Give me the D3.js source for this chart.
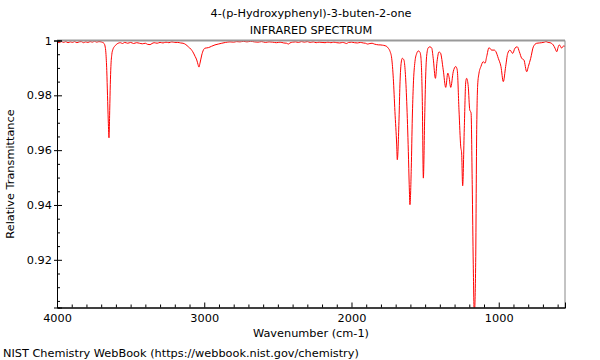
<!DOCTYPE html>
<html>
<head>
<meta charset="utf-8">
<script src="https://cdn.jsdelivr.net/npm/d3@7"></script>
<style>
  html, body { margin: 0; padding: 0; background: #fff; }
  svg { display: block; font-family: "DejaVu Sans", sans-serif; }
</style>
</head>
<body>
<svg id="chart" width="600" height="360"></svg>
<script>
// ---- data ----
const titleLines = ["4-(p-Hydroxyphenyl)-3-buten-2-one", "INFRARED SPECTRUM"];
const xLabel = "Wavenumber (cm-1)";
const yLabel = "Relative Transmittance";
const footer = "NIST Chemistry WebBook (https://webbook.nist.gov/chemistry)";

const xMajorTicks = [4000, 3000, 2000, 1000];
const xTickLabels = ["4000", "3000", "2000", "1000"];
const yMajorTicks = [0.92, 0.94, 0.96, 0.98, 1];
const yTickLabels = ["0.92", "0.94", "0.96", "0.98", "1"];
const xMinorTicks = [3900,3800,3700,3600,3500,3400,3300,3200,3100,2900,2800,2700,2600,2500,2400,2300,2200,2100,1900,1800,1700,1600,1500,1400,1300,1200,1100,900,800,700,600];
const yMinorTicks = [0.905,0.91,0.915,0.925,0.93,0.935,0.945,0.95,0.955,0.965,0.97,0.975,0.985,0.99,0.995];

const wavenumber = [
4000,3985,3970,3955,3940,3925,3910,3895,3880,3865,3850,3835,3820,3805,3790,3775,3760,3745,3730,3715,
3700,3690,3680,3674,3668,3662,3657,3652,3649,3647,3645,3642,3638,3634,3628,3620,3610,3598,3585,3570,
3555,3540,3520,3500,3480,3460,3440,3420,3400,3385,3368,3355,3340,3320,3300,3280,3260,3240,3220,3200,
3180,3160,3144,3125,3108,3090,3078,3062,3051,3042,3036,3029,3017,3006,2995,2983,2972,2950,2927,2905,
2881,2855,2825,2800,2780,2757,2735,2710,2685,2660,2635,2610,2585,2560,2535,2510,2485,2460,2440,2429,
2418,2400,2380,2360,2340,2320,2300,2280,2260,2240,2220,2200,2180,2160,2140,2120,2100,2080,2060,2045,
2033,2020,2000,1980,1960,1940,1920,1905,1890,1875,1860,1845,1829,1815,1806,1790,1772,1760,1750,1738,
1727,1716,1705,1693,1689,1677,1671,1664,1655,1644,1635,1625,1614,1608,1603,1594,1587,1580,1569,1557,
1546,1535,1528,1519,1512,1503,1496,1489,1478,1467,1455,1445,1430,1419,1406,1396,1377,1360,1346,1338,
1326,1309,1292,1282,1270,1258,1252,1245,1234,1224,1218,1207,1197,1188,1180,1173,1166,1157,1150,1143,
1134,1121,1105,1093,1082,1066,1048,1030,1019,1003,985,969,953,939,924,905,890,874,860,844,
829,810,799,783,765,742,725,708,690,679,665,652,640,630,618,606,597,589,580,572,
565,557,550
];
const transmittance = [
0.9995,0.9992,0.9996,0.9993,0.9996,0.9992,0.9995,0.9993,0.9996,0.9992,0.9995,0.9996,0.9992,0.9995,0.9993,0.9996,0.9994,0.9997,0.9994,0.9996,
0.9995,0.9993,0.9989,0.9980,0.9955,0.9890,0.9800,0.9710,0.9665,0.9645,0.9670,0.9745,0.9840,0.9905,0.9948,0.9968,0.9978,0.9985,0.9990,0.9992,
0.9989,0.9993,0.9990,0.9993,0.9989,0.9992,0.9990,0.9988,0.9990,0.9986,0.9985,0.9989,0.9992,0.9990,0.9993,0.9991,0.9994,0.9992,0.9995,0.9993,
0.9993,0.9991,0.9990,0.9985,0.9977,0.9968,0.9959,0.9942,0.9929,0.9912,0.9903,0.9917,0.9947,0.9965,0.9972,0.9973,0.9974,0.9979,0.9984,0.9987,
0.9990,0.9993,0.9995,0.9994,0.9996,0.9995,0.9997,0.9995,0.9997,0.9995,0.9994,0.9996,0.9993,0.9995,0.9994,0.9992,0.9994,0.9991,0.9990,0.9987,
0.9991,0.9994,0.9995,0.9993,0.9996,0.9994,0.9996,0.9993,0.9995,0.9992,0.9994,0.9993,0.9992,0.9994,0.9992,0.9994,0.9992,0.9991,0.9993,0.9991,
0.9989,0.9993,0.9994,0.9992,0.9991,0.9993,0.9991,0.9990,0.9987,0.9989,0.9990,0.9987,0.9985,0.9984,0.9984,0.9983,0.9981,0.9978,0.9972,0.9960,
0.9935,0.9862,0.9741,0.9619,0.9565,0.9717,0.9838,0.9911,0.9935,0.9929,0.9886,0.9777,0.9595,0.9474,0.9401,0.9534,0.9717,0.9838,0.9923,0.9953,
0.9962,0.9957,0.9935,0.9777,0.9498,0.9717,0.9874,0.9947,0.9974,0.9977,0.9972,0.9935,0.9862,0.9923,0.9958,0.9955,0.9893,0.9829,0.9881,0.9868,
0.9829,0.9886,0.9905,0.9893,0.9747,0.9612,0.9590,0.9470,0.9678,0.9849,0.9862,0.9832,0.9747,0.9736,0.9474,0.9182,0.9000,0.9171,0.9656,0.9838,
0.9881,0.9905,0.9923,0.9917,0.9941,0.9974,0.9965,0.9965,0.9959,0.9935,0.9905,0.9850,0.9905,0.9953,0.9965,0.9953,0.9972,0.9977,0.9959,0.9935,
0.9929,0.9886,0.9905,0.9935,0.9977,0.9990,0.9991,0.9992,0.9994,0.9996,0.9993,0.9992,0.9989,0.9984,0.9972,0.9959,0.9975,0.9984,0.9978,0.9972,
0.9978,0.9980,0.9978
];

// ---- layout ----
const svg = d3.select("#chart");
const plotLeft = 57, plotRight = 565, plotTop = 40.5, plotBottom = 307.5;
const fontSize = "11.3px";

const x = d3.scaleLinear().domain([4000, 550]).range([plotLeft, plotRight]);
const y = d3.scaleLinear().domain([0.9026, 1]).range([plotBottom, plotTop]);

// titles
svg.selectAll("text.title").data(titleLines).enter().append("text")
  .attr("class", "title")
  .attr("x", 311).attr("y", (d, i) => 17 + i * 17)
  .attr("text-anchor", "middle")
  .attr("font-size", fontSize).attr("fill", "#000")
  .text(d => d);

// clip
svg.append("clipPath").attr("id", "plotclip").append("rect")
  .attr("x", plotLeft).attr("y", plotTop).attr("width", plotRight - plotLeft).attr("height", plotBottom - plotTop);

// spectrum line
const pts = wavenumber.map((w, i) => [w, transmittance[i]]);
const line = d3.line().x(d => x(d[0])).y(d => y(d[1])).curve(d3.curveMonotoneX);
svg.append("path")
  .datum(pts)
  .attr("clip-path", "url(#plotclip)")
  .attr("fill", "none")
  .attr("stroke", "#ff0000")
  .attr("stroke-width", 1)
  .attr("d", line);

// frame: top (grey), right (grey)
svg.append("line").attr("x1", plotLeft).attr("x2", plotRight).attr("y1", plotTop).attr("y2", plotTop)
  .attr("stroke", "#999").attr("stroke-width", 2);
svg.append("line").attr("x1", plotRight).attr("x2", plotRight).attr("y1", plotTop).attr("y2", plotBottom)
  .attr("stroke", "#888").attr("stroke-width", 1);

// x axis
const gx = svg.append("g").attr("transform", `translate(0,${plotBottom})`);
gx.call(d3.axisBottom(x).tickValues(xMajorTicks).tickSize(-5).tickPadding(6)
  .tickFormat((d, i) => xTickLabels[i]));
gx.append("g").call(d3.axisBottom(x).tickValues(xMinorTicks).tickSize(-3).tickFormat(""));
gx.selectAll("text").attr("font-size", fontSize).attr("font-family", "DejaVu Sans").attr("fill", "#000");
gx.selectAll(".domain").attr("stroke", "#000");

// y axis
const gy = svg.append("g").attr("transform", `translate(${plotLeft},0)`);
gy.call(d3.axisLeft(y).tickValues(yMajorTicks).tickSize(3).tickPadding(2)
  .tickFormat((d, i) => yTickLabels[i]));
gy.append("g").call(d3.axisLeft(y).tickValues(yMinorTicks).tickSize(-3).tickFormat(""));
gy.append("g").call(d3.axisLeft(y).tickValues(yMajorTicks).tickSize(-5).tickFormat(""));
gy.selectAll("text").attr("font-size", fontSize).attr("font-family", "DejaVu Sans").attr("fill", "#000");
gy.selectAll(".domain").attr("stroke", "#000");

// axis labels
svg.append("text").attr("x", 311).attr("y", 337).attr("text-anchor", "middle")
  .attr("font-size", fontSize).text(xLabel);
svg.append("text").attr("transform", "translate(14,174) rotate(-90)").attr("text-anchor", "middle")
  .attr("font-size", fontSize).text(yLabel);

// footer
svg.append("text").attr("x", 3).attr("y", 357).attr("font-size", fontSize).text(footer);
</script>
</body>
</html>
